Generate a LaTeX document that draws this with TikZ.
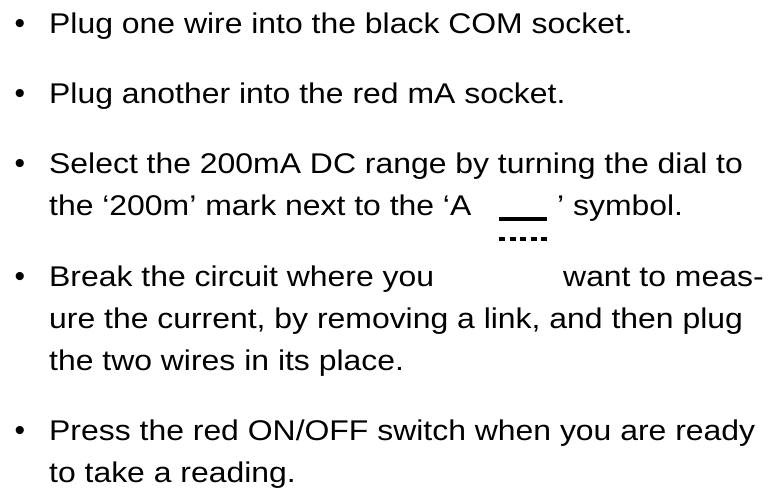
\documentclass[tikz,border=0pt]{standalone}
\usepackage{fontspec}
\setmainfont{Liberation Sans}
\newcommand{\wide}[1]{\scalebox{1.12}[1]{#1}}
\tikzset{
  item/.style = {anchor=base west, inner sep=0pt, font=\fontsize{28.5}{34}\selectfont},
  blob/.style = {anchor=base, inner sep=0pt, font=\fontsize{30}{34}\selectfont},
  bar/.style = {line width=4pt}
}

\begin{document}
\begin{tikzpicture}[x=1pt,y=-1pt]
  \pgfmathsetmacro{\tx}{49};
  \pgfmathsetmacro{\bx}{20};
  \useasboundingbox (0,0) rectangle (774,490);
  % first item
  \node[blob] (b1) at (\bx,33) {•};
  \node[item] (t1) at (\tx,33) {\wide{Plug one wire into the black COM socket.}};
  % second item
  \node[blob] (b2) at (\bx,103) {•};
  \node[item] (t2) at (\tx,103) {\wide{Plug another into the red mA socket.}};
  % third item, with the DC sign
  \node[blob] (b3) at (\bx,173) {•};
  \node[item] (t3) at (\tx,173) {\wide{Select the 200mA DC range by turning the dial to}};
  \node[item] (t3b) at (\tx,215) {\wide{the ‘200m’ mark next to the ‘A}};
  \node[item] (t3c) at (557,215) {\wide{’ symbol.}};
  \coordinate (dcl) at (499,219);
  \coordinate (dcr) at (547,219);
  \coordinate (dsl) at (499,239);
  \coordinate (dsr) at (547,239);
  \draw[bar] (dcl) -- (dcr);
  \draw[bar,dash pattern=on 6pt off 4.5pt] (dsl) -- (dsr);
  % fourth item
  \node[blob] (b4) at (\bx,286) {•};
  \node[item] (t4) at (\tx,286) {\wide{Break the circuit where you}};
  \node[item] (t4a) at (563,286) {\wide{want to meas-}};
  \node[item] (t4b) at (\tx,328) {\wide{ure the current, by removing a link, and then plug}};
  \node[item] (t4c) at (\tx,370) {\wide{the two wires in its place.}};
  % fifth item
  \node[blob] (b5) at (\bx,440) {•};
  \node[item] (t5) at (\tx,440) {\wide{Press the red ON/OFF switch when you are ready}};
  \node[item] (t5b) at (\tx,482) {\wide{to take a reading.}};
\end{tikzpicture}
\end{document}
